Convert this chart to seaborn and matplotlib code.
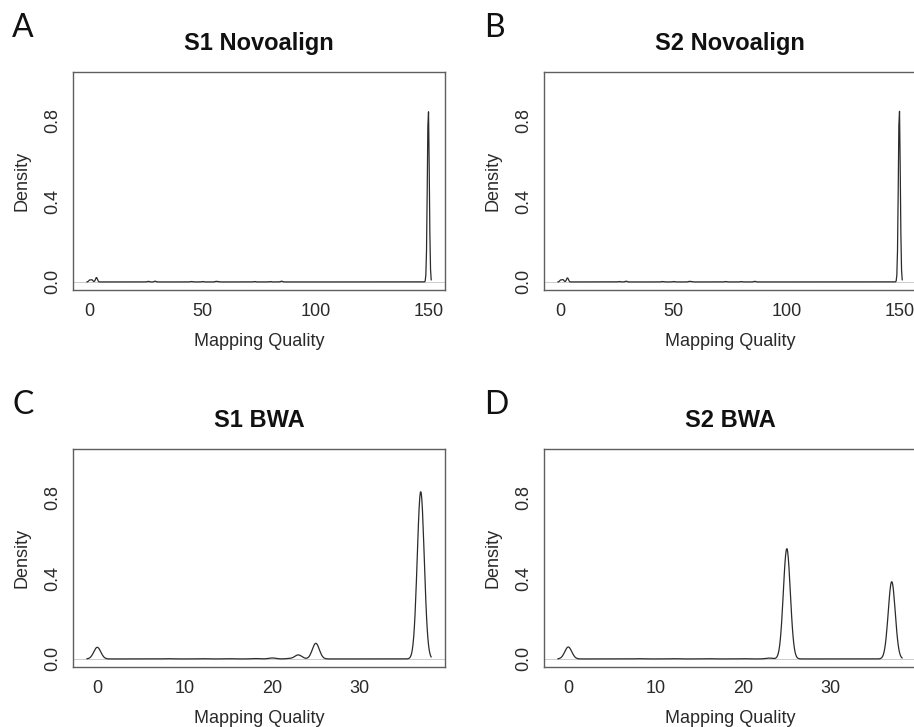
import numpy as np
import matplotlib
matplotlib.use("Agg")
import matplotlib.pyplot as plt
import seaborn as sns

# Mapping-quality values and the (estimated) number of reads per 1000 at each value
panel_letters = ["A", "B", "C", "D"]
panel_titles = ["S1 Novoalign", "S2 Novoalign", "S1 BWA", "S2 BWA"]

s1_novo_mapq = [0, 1, 3, 26, 29, 45, 50, 56, 57, 73, 80, 85, 150]
s1_novo_reads = [10, 11, 24, 3, 4, 2, 2, 3, 2, 2, 2, 4, 931]

s2_novo_mapq = [0, 1, 3, 26, 29, 45, 50, 57, 58, 73, 80, 86, 150]
s2_novo_reads = [10, 12, 22, 2, 4, 2, 2, 3, 2, 2, 2, 3, 934]

s1_bwa_mapq = [0, 8, 12, 15, 18, 20, 22, 23, 25, 37]
s1_bwa_reads = [58, 1, 1, 1, 2, 5, 2, 20, 78, 837]

s2_bwa_mapq = [0, 8, 12, 16, 20, 23, 25, 37]
s2_bwa_reads = [58, 1, 1, 1, 1, 4, 536, 376]

panel_mapq = [s1_novo_mapq, s2_novo_mapq, s1_bwa_mapq, s2_bwa_mapq]
panel_reads = [s1_novo_reads, s2_novo_reads, s1_bwa_reads, s2_bwa_reads]
panel_bw = [0.43, 0.43, 0.40, 0.40]   # kernel bandwidth in MAPQ units

novo_xticks = [0, 50, 100, 150]
bwa_xticks = [0, 10, 20, 30]
panel_xticks = [novo_xticks, novo_xticks, bwa_xticks, bwa_xticks]
yticks = [0.0, 0.2, 0.4, 0.6, 0.8, 1.0]
ytick_labels = ["0.0", "", "0.4", "", "0.8", ""]

sns.set_style("white")
plt.rcParams['font.family'] = ['Liberation Sans', 'DejaVu Sans']

W, H = 914, 727
fig = plt.figure(figsize=(W / 100, H / 100), dpi=100)

# axes boxes in pixels: (left, top)
box_w, box_h = 372, 218
box_pos = [(73, 72), (544, 72), (73, 449), (544, 449)]
letter_pos = [(12, 37), (484, 37), (12, 414), (484, 414)]

frame_col = "#5e5e5e"
text_col = "#2a2a2a"

for i in range(4):
    left, top = box_pos[i]
    ax = fig.add_axes([left / W, 1 - (top + box_h) / H, box_w / W, box_h / H])

    mapq = np.repeat(panel_mapq[i], panel_reads[i]).astype(float)
    sd = mapq.std(ddof=1)
    sns.kdeplot(x=mapq, bw_method=panel_bw[i] / sd, gridsize=512, cut=3,
                ax=ax, color="#2b2b2b", linewidth=0.9)
    ax.axhline(0, color="#c4c4c4", linewidth=0.6, zorder=0)

    ax.margins(x=0.04)
    ax.set_ylim(-0.04, 1.04)
    ax.set_xticks(panel_xticks[i])
    ax.set_yticks(yticks)
    ax.set_yticklabels(ytick_labels)
    for lab in ax.get_yticklabels():
        lab.set_rotation(90)
        lab.set_va("center")

    ax.tick_params(axis="both", direction="out", length=4.5, width=0.9,
                   color=frame_col, labelsize=13, labelcolor=text_col, pad=5)
    ax.tick_params(axis="y", pad=4)
    for sp in ax.spines.values():
        sp.set_color(frame_col)
        sp.set_linewidth(1.0)

    ax.set_xlabel("Mapping Quality", fontsize=13, color=text_col, labelpad=9)
    ax.set_ylabel("Density", fontsize=13, color=text_col, labelpad=10)
    ax.set_title(panel_titles[i], fontsize=17, fontweight="bold", color="#111111", pad=16)

    lx, ly = letter_pos[i]
    fig.text(lx / W, 1 - ly / H, panel_letters[i], fontsize=23, family=["Lato", "DejaVu Sans"],
             color="#111111", ha="left", va="baseline")

fig.savefig("out.png", dpi=100)
